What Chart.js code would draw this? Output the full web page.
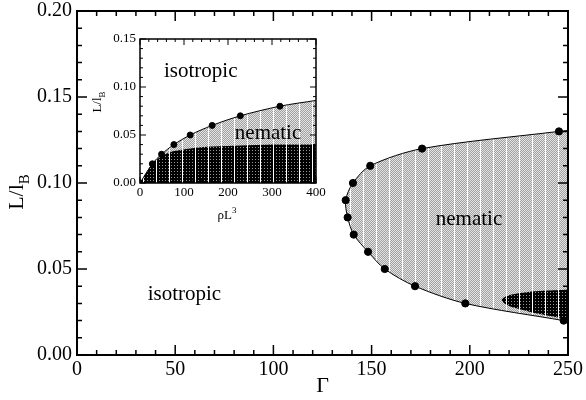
<!DOCTYPE html>
<html>
<head>
<meta charset="utf-8">
<script src="https://cdn.jsdelivr.net/npm/chart.js@4.4.0/dist/chart.umd.min.js"></script>
<style>
  html, body { margin: 0; padding: 0; background: #fff; }
  #wrap { position: relative; width: 586px; height: 400px; }
  #main { position: absolute; left: 0; top: 0; }
  #inset { position: absolute; left: 92px; top: 26px; }
</style>
</head>
<body>
<div id="wrap">
  <canvas id="main" width="586" height="400"></canvas>
  <canvas id="inset" width="240" height="204"></canvas>
</div>
<script>
// Main panel: isotropic-nematic boundary in the (Gamma, L/lB) plane
const gammaPoints = [245.4, 175.7, 149.3, 140.5, 136.8, 137.8, 140.9, 148.2, 156.7, 172.1, 197.7, 247.8];
const lPoints     = [0.130, 0.120, 0.110, 0.100, 0.090, 0.080, 0.070, 0.060, 0.050, 0.040, 0.030, 0.020];
// where the boundary meets the right edge (Gamma = 250)
const gammaEdge = 250;
const lEdgeTop = 0.1305;
const lEdgeBottom = 0.0195;

// dark pocket inside the nematic region near large Gamma
const tongueGamma = [250, 240, 230, 222, 218, 216.3, 219, 225.6, 235, 245, 250];
const tongueL     = [0.0380, 0.0375, 0.0367, 0.0353, 0.0338, 0.0320, 0.0290, 0.0266, 0.0240, 0.0218, 0.0205];

// Inset: boundary vs reduced density rho L^3
const insetRho = [0, 28, 49, 77, 114, 164, 228, 318];
const insetL   = [0, 0.020, 0.030, 0.040, 0.050, 0.060, 0.070, 0.080];
const insetRhoEdge = 400;
const insetLEdge = 0.086;
// top of the dark region in the inset
const darkRho = [0, 28, 50, 75, 115, 165, 230, 300, 400];
const darkL   = [0, 0.020, 0.028, 0.033, 0.036, 0.038, 0.039, 0.040, 0.040];

const xy = (xs, ys) => xs.map((x, i) => ({ x: x, y: ys[i] }));

const boundaryLine = [{ x: gammaEdge, y: lEdgeTop }, ...xy(gammaPoints, lPoints), { x: gammaEdge, y: lEdgeBottom }];
const insetLine = [...xy(insetRho, insetL), { x: insetRhoEdge, y: insetLEdge }];

const SERIF = "'Liberation Serif', 'Times New Roman', serif";

// stipple fills with the periodic white streaks
function makePattern(w, h, paint) {
    const c = document.createElement('canvas');
    c.width = w; c.height = h;
    const g = c.getContext('2d');
    const img = g.createImageData(w, h);
    for (let y = 0; y < h; y++) {
        for (let x = 0; x < w; x++) {
            const v = paint(x, y);
            const i = (y * w + x) * 4;
            img.data[i] = img.data[i + 1] = img.data[i + 2] = v;
            img.data[i + 3] = 255;
        }
    }
    g.putImageData(img, 0, 0);
    return g.createPattern(c, 'repeat');
}
const nematicFill = makePattern(26, 2, (x, y) => x % 13 === 12 ? 255 : ((x + y) % 2 ? 160 : 228));
const darkFill = makePattern(39, 3, (x, y) => x % 13 === 12 ? 255 : (x % 3 === 1 && y === 1 ? 150 : 0));

// text with an optional sub/superscript piece
function drawParts(ctx, parts, x, y, angle) {
    ctx.save();
    ctx.translate(x, y);
    ctx.rotate(angle);
    let total = 0;
    parts.forEach(p => {
        ctx.font = p.size + 'px ' + SERIF;
        total += ctx.measureText(p.text).width;
    });
    let cx = -total / 2;
    ctx.textAlign = 'left';
    ctx.textBaseline = 'alphabetic';
    ctx.fillStyle = '#000';
    parts.forEach(p => {
        ctx.font = p.size + 'px ' + SERIF;
        ctx.fillText(p.text, cx, p.shift);
        cx += ctx.measureText(p.text).width;
    });
    ctx.restore();
}

// frame, inward ticks (major + minor) on all four sides, axis titles, region labels
function makeDecor(o) {
    return {
        id: 'decor',
        afterDatasetsDraw(chart) {
            const { ctx, chartArea: a, scales } = chart;
            const sx = scales.x, sy = scales.y;
            ctx.save();
            ctx.strokeStyle = '#000';
            ctx.lineWidth = o.tickWidth;
            ctx.beginPath();
            const nx = Math.round((sx.max - sx.min) / o.xMinor);
            for (let k = 0; k <= nx; k++) {
                const len = (k % o.xEvery === 0) ? o.major : o.minor;
                const px = sx.getPixelForValue(sx.min + k * o.xMinor);
                ctx.moveTo(px, a.bottom); ctx.lineTo(px, a.bottom - len);
                ctx.moveTo(px, a.top); ctx.lineTo(px, a.top + len);
            }
            const ny = Math.round((sy.max - sy.min) / o.yMinor);
            for (let k = 0; k <= ny; k++) {
                const len = (k % o.yEvery === 0) ? o.major : o.minor;
                const py = sy.getPixelForValue(sy.min + k * o.yMinor);
                ctx.moveTo(a.left, py); ctx.lineTo(a.left + len, py);
                ctx.moveTo(a.right, py); ctx.lineTo(a.right - len, py);
            }
            ctx.stroke();
            ctx.lineWidth = o.frameWidth;
            ctx.strokeRect(a.left, a.top, a.right - a.left, a.bottom - a.top);
            ctx.restore();

            const cx = (a.left + a.right) / 2;
            const cy = (a.top + a.bottom) / 2;
            drawParts(ctx, o.xTitle, cx + o.xTitleDx, a.bottom + o.xTitleDy, 0);
            drawParts(ctx, o.yTitle, a.left - o.yTitleDx, cy + o.yTitleDy, -Math.PI / 2);

            ctx.save();
            ctx.fillStyle = '#000';
            ctx.textAlign = 'center';
            ctx.textBaseline = 'alphabetic';
            ctx.font = o.labelSize + 'px ' + SERIF;
            o.labels.forEach(l => {
                ctx.fillText(l.text, sx.getPixelForValue(l.x), sy.getPixelForValue(l.y));
            });
            ctx.restore();
        }
    };
}

// fixed-size axis boxes, no extra label overhang
const fixBox = (w, h) => s => {
    if (w !== null) s.width = w;
    if (h !== null) s.height = h;
    s.paddingTop = s.paddingBottom = s.paddingLeft = s.paddingRight = 0;
};

const hidden = 'rgba(0,0,0,0)';

new Chart(document.getElementById('main'), {
    type: 'scatter',
    data: {
        datasets: [
            { // measured points
                data: xy(gammaPoints, lPoints),
                pointRadius: 3.6, pointBackgroundColor: '#000', pointBorderColor: '#000',
                showLine: false, order: 0
            },
            { // boundary curve
                data: boundaryLine,
                showLine: true, borderColor: '#000', borderWidth: 1, tension: 0.3,
                pointRadius: 0, fill: false, order: 1
            },
            { // dark pocket
                data: xy(tongueGamma, tongueL),
                showLine: true, borderColor: hidden, borderWidth: 1, tension: 0.4,
                pointRadius: 0, fill: 'shape', backgroundColor: darkFill, order: 2
            },
            { // nematic area
                data: boundaryLine,
                showLine: true, borderColor: hidden, borderWidth: 1, tension: 0.3,
                pointRadius: 0, fill: 'shape', backgroundColor: nematicFill, order: 3
            }
        ]
    },
    options: {
        responsive: false,
        animation: false,
        devicePixelRatio: 1,
        layout: { padding: { left: 0, right: 18, top: 11, bottom: 0 } },
        plugins: { legend: { display: false }, tooltip: { enabled: false } },
        scales: {
            x: {
                type: 'linear', min: 0, max: 250,
                afterFit: fixBox(null, 45),
                ticks: { stepSize: 50, color: '#000', padding: 5, maxRotation: 0,
                         font: { family: SERIF, size: 20, lineHeight: 1 } },
                grid: { display: false, drawTicks: false },
                border: { display: false }
            },
            y: {
                type: 'linear', min: 0, max: 0.2,
                afterFit: fixBox(77, null),
                ticks: { stepSize: 0.05, color: '#000', padding: 5,
                         callback: v => v.toFixed(2),
                         font: { family: SERIF, size: 20, lineHeight: 1 } },
                grid: { display: false, drawTicks: false },
                border: { display: false }
            }
        }
    },
    plugins: [makeDecor({
        tickWidth: 1.5, frameWidth: 2,
        xMinor: 10, xEvery: 5, yMinor: 0.01, yEvery: 5,
        major: 10, minor: 5,
        xTitle: [{ text: 'Γ', size: 22, shift: 0 }], xTitleDx: 0, xTitleDy: 37,
        yTitle: [{ text: 'L/l', size: 22, shift: 0 }, { text: 'B', size: 15, shift: 6 }], yTitleDx: 54, yTitleDy: 9,
        labelSize: 21,
        labels: [
            { text: 'isotropic', x: 54.7, y: 0.032 },
            { text: 'nematic', x: 199.6, y: 0.0756 }
        ]
    })]
});

new Chart(document.getElementById('inset'), {
    type: 'scatter',
    data: {
        datasets: [
            {
                data: xy(insetRho, insetL),
                pointRadius: 3, pointBackgroundColor: '#000', pointBorderColor: '#000',
                showLine: false, order: 0
            },
            {
                data: insetLine,
                showLine: true, borderColor: '#000', borderWidth: 1, tension: 0.3,
                pointRadius: 0, fill: false, order: 1
            },
            {
                data: xy(darkRho, darkL),
                showLine: true, borderColor: hidden, borderWidth: 1, tension: 0.3,
                pointRadius: 0, fill: 'origin', backgroundColor: darkFill, order: 2
            },
            {
                data: insetLine,
                showLine: true, borderColor: hidden, borderWidth: 1, tension: 0.3,
                pointRadius: 0, fill: 'origin', backgroundColor: nematicFill, order: 3
            }
        ]
    },
    options: {
        responsive: false,
        animation: false,
        devicePixelRatio: 1,
        layout: { padding: { left: 0, right: 16, top: 13, bottom: 0 } },
        plugins: { legend: { display: false }, tooltip: { enabled: false } },
        scales: {
            x: {
                type: 'linear', min: 0, max: 400,
                afterFit: fixBox(null, 47),
                ticks: { stepSize: 100, color: '#000', padding: 3, maxRotation: 0,
                         font: { family: SERIF, size: 13, lineHeight: 1 } },
                grid: { display: false, drawTicks: false },
                border: { display: false }
            },
            y: {
                type: 'linear', min: 0, max: 0.15,
                afterFit: fixBox(48, null),
                ticks: { stepSize: 0.05, color: '#000', padding: 4,
                         callback: v => v.toFixed(2),
                         font: { family: SERIF, size: 13, lineHeight: 1 } },
                grid: { display: false, drawTicks: false },
                border: { display: false }
            }
        }
    },
    plugins: [makeDecor({
        tickWidth: 1, frameWidth: 1.5,
        xMinor: 20, xEvery: 5, yMinor: 0.01, yEvery: 5,
        major: 6, minor: 3,
        xTitle: [{ text: 'ρL', size: 13, shift: 0 }, { text: '3', size: 9, shift: -6 }], xTitleDx: -1, xTitleDy: 36,
        yTitle: [{ text: 'L/l', size: 13, shift: 0 }, { text: 'B', size: 9, shift: 4 }], yTitleDx: 39, yTitleDy: -9,
        labelSize: 21,
        labels: [
            { text: 'isotropic', x: 138, y: 0.110 },
            { text: 'nematic', x: 291, y: 0.0455 }
        ]
    })]
});
</script>
</body>
</html>
